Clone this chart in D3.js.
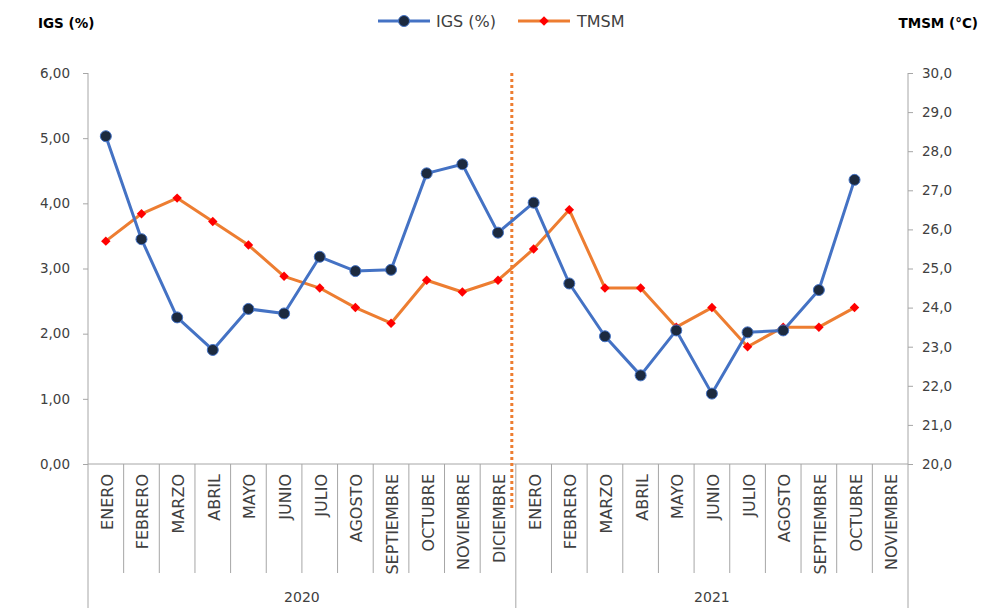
<!DOCTYPE html>
<html>
<head>
<meta charset="utf-8">
<script src="https://cdn.jsdelivr.net/npm/d3@7"></script>
<style>
  body { margin: 0; background: #fff; overflow: hidden; }
  svg { display: block; font-family: "DejaVu Sans", Verdana, sans-serif; }
</style>
</head>
<body>
<div id="chart"></div>
<script>
// ######################## Data #############################################
const months = ["ENERO", "FEBRERO", "MARZO", "ABRIL", "MAYO", "JUNIO", "JULIO",
    "AGOSTO", "SEPTIEMBRE", "OCTUBRE", "NOVIEMBRE", "DICIEMBRE",
    "ENERO", "FEBRERO", "MARZO", "ABRIL", "MAYO", "JUNIO", "JULIO",
    "AGOSTO", "SEPTIEMBRE", "OCTUBRE", "NOVIEMBRE"];
const years = [{ label: "2020", start: 0, end: 12 }, { label: "2021", start: 12, end: 23 }];

// IGS (%) - left axis, null where no value
const igs = [5.03, 3.45, 2.25, 1.75, 2.38, 2.31, 3.18, 2.96, 2.98, 4.46, 4.60, 3.55,
    4.01, 2.77, 1.96, 1.36, 2.05, 1.08, 2.02, 2.05, 2.67, 4.36, null];
// TMSM (°C) - right axis
const tmsm = [25.7, 26.4, 26.8, 26.2, 25.6, 24.8, 24.5, 24.0, 23.6, 24.7, 24.4, 24.7,
    25.5, 26.5, 24.5, 24.5, 23.5, 24.0, 23.0, 23.5, 23.5, 24.0, null];

const leftTicks = [0, 1, 2, 3, 4, 5, 6];
const rightTicks = [20, 21, 22, 23, 24, 25, 26, 27, 28, 29, 30];

// ######################## Chart #############################################
const width = 981, height = 608;
const plot = { left: 88, right: 908, top: 73, bottom: 464 };

const svg = d3.select("#chart").append("svg")
    .attr("width", width)
    .attr("height", height);

const x = d3.scaleBand()
    .domain(d3.range(months.length))
    .range([plot.left, plot.right])
    .padding(0);
const cx = i => x(i) + x.bandwidth() / 2;

const yL = d3.scaleLinear().domain([0, 6]).range([plot.bottom, plot.top]);
const yR = d3.scaleLinear().domain([20, 30]).range([plot.bottom, plot.top]);

const axisColor = "#a6a6a6";
const textColor = "#404040";
const fmt2 = d3.format(".2f"), fmt1 = d3.format(".1f");

// left axis
const gL = svg.append("g")
    .attr("transform", `translate(${plot.left},0)`)
    .call(d3.axisLeft(yL).tickValues(leftTicks).tickSize(5).tickPadding(13)
        .tickFormat(d => fmt2(d).replace(".", ",")));
// right axis
const gR = svg.append("g")
    .attr("transform", `translate(${plot.right},0)`)
    .call(d3.axisRight(yR).tickValues(rightTicks).tickSize(5).tickPadding(9)
        .tickFormat(d => fmt1(d).replace(".", ",")));

[gL, gR].forEach(g => {
    g.select(".domain").remove();
    g.selectAll(".tick line").attr("stroke", axisColor);
    g.selectAll(".tick text").attr("fill", textColor)
        .style("font-size", "13.5px")
        .style("font-family", "'DejaVu Sans', Verdana, sans-serif");
});
svg.append("line").attr("x1", plot.left).attr("x2", plot.left)
    .attr("y1", plot.top).attr("y2", height).attr("stroke", axisColor);
svg.append("line").attr("x1", plot.right).attr("x2", plot.right)
    .attr("y1", plot.top).attr("y2", plot.bottom).attr("stroke", axisColor);

// bottom axis line + category separators
svg.append("line").attr("x1", plot.left).attr("x2", plot.right)
    .attr("y1", plot.bottom).attr("y2", plot.bottom).attr("stroke", axisColor);

const yearEdges = new Set(years.flatMap(y => [y.start, y.end]));
svg.append("g").selectAll("line")
    .data(d3.range(1, months.length + 1))
    .join("line")
    .attr("x1", i => i < months.length ? x(i) : plot.right)
    .attr("x2", i => i < months.length ? x(i) : plot.right)
    .attr("y1", plot.bottom)
    .attr("y2", i => yearEdges.has(i) ? height : 573)
    .attr("stroke", axisColor);

// month labels
svg.append("g").selectAll("text")
    .data(months)
    .join("text")
    .attr("transform", (d, i) => `translate(${cx(i) + 7},${plot.bottom + 10}) rotate(-90)`)
    .attr("text-anchor", "end")
    .attr("fill", textColor)
    .style("font-size", "16px")
    .text(d => d);

// year labels
svg.append("g").selectAll("text")
    .data(years)
    .join("text")
    .attr("x", d => (x(d.start) + (d.end < months.length ? x(d.end) : plot.right)) / 2)
    .attr("y", 602)
    .attr("text-anchor", "middle")
    .attr("fill", textColor)
    .style("font-size", "14px")
    .text(d => d.label);

// divider between years (dotted)
const divX = x(12) - 4;
svg.append("line")
    .attr("x1", divX).attr("x2", divX)
    .attr("y1", plot.top).attr("y2", 508)
    .attr("stroke", "#ed7d31")
    .attr("stroke-width", 3)
    .attr("stroke-dasharray", "3,3");

// lines
const blue = "#4472c4", orange = "#ed7d31";
const lineL = d3.line().defined(d => d != null).x((d, i) => cx(i)).y(d => yL(d));
const lineR = d3.line().defined(d => d != null).x((d, i) => cx(i)).y(d => yR(d));

svg.append("path").datum(tmsm)
    .attr("fill", "none").attr("stroke", orange).attr("stroke-width", 3)
    .attr("stroke-linejoin", "round").attr("d", lineR);
svg.append("path").datum(igs)
    .attr("fill", "none").attr("stroke", blue).attr("stroke-width", 3)
    .attr("stroke-linejoin", "round").attr("d", lineL);

const diamond = d3.symbol().type(d3.symbolSquare).size(45);

svg.append("g").selectAll("path")
    .data(tmsm.map((v, i) => ({ v, i })).filter(d => d.v != null))
    .join("path")
    .attr("transform", d => `translate(${cx(d.i)},${yR(d.v)}) rotate(45)`)
    .attr("d", diamond)
    .attr("fill", "#ff0000");

svg.append("g").selectAll("circle")
    .data(igs.map((v, i) => ({ v, i })).filter(d => d.v != null))
    .join("circle")
    .attr("cx", d => cx(d.i))
    .attr("cy", d => yL(d.v))
    .attr("r", 5.5)
    .attr("fill", "#1c2a3f")
    .attr("stroke", blue)
    .attr("stroke-width", 1);

// axis titles
svg.append("text").attr("x", 38).attr("y", 28)
    .attr("fill", "#000").style("font-size", "13.5px").style("font-weight", "bold")
    .text("IGS (%)");
svg.append("text").attr("x", 978).attr("y", 28)
    .attr("text-anchor", "end")
    .attr("fill", "#000").style("font-size", "13.5px").style("font-weight", "bold")
    .text("TMSM (°C)");

// legend
const legend = svg.append("g");
legend.append("line").attr("x1", 378).attr("x2", 430).attr("y1", 21).attr("y2", 21)
    .attr("stroke", blue).attr("stroke-width", 3);
legend.append("circle").attr("cx", 404).attr("cy", 21).attr("r", 5.5)
    .attr("fill", "#1c2a3f").attr("stroke", blue);
legend.append("text").attr("x", 436).attr("y", 27).attr("fill", textColor)
    .style("font-size", "16px").text("IGS (%)");
legend.append("line").attr("x1", 518).attr("x2", 570).attr("y1", 21).attr("y2", 21)
    .attr("stroke", orange).attr("stroke-width", 3);
legend.append("path").attr("transform", "translate(544,21) rotate(45)")
    .attr("d", diamond)
    .attr("fill", "#ff0000");
legend.append("text").attr("x", 577).attr("y", 27).attr("fill", textColor)
    .style("font-size", "16px").text("TMSM");
</script>
</body>
</html>
